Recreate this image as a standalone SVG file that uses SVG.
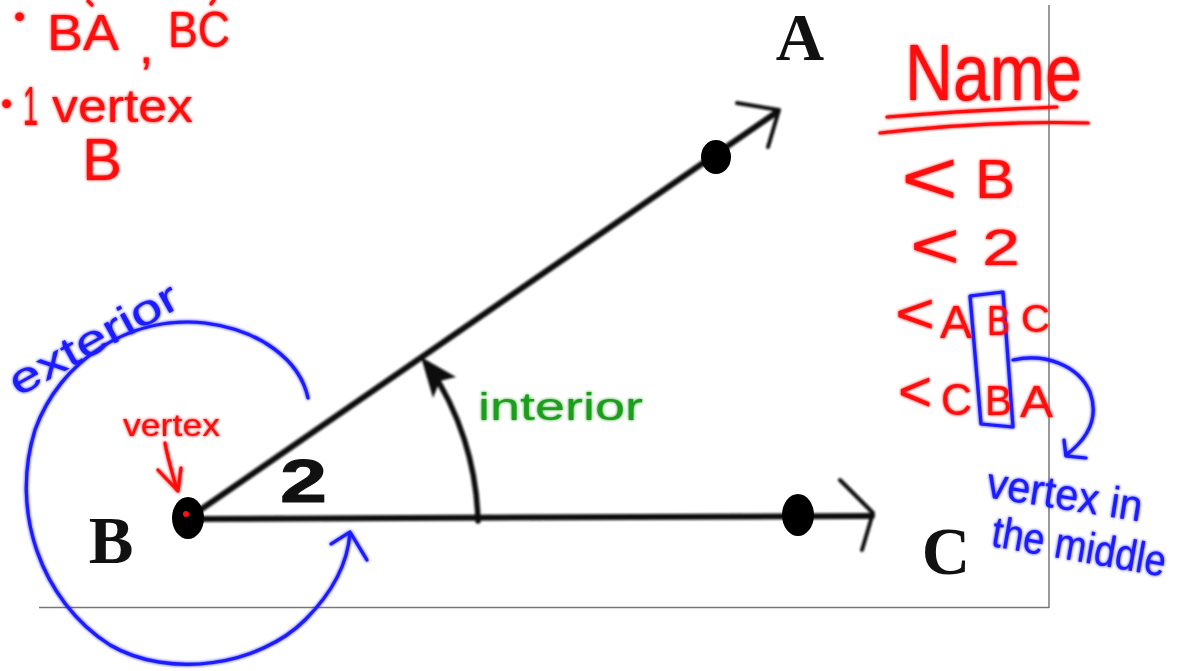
<svg xmlns="http://www.w3.org/2000/svg" width="1178" height="671" viewBox="0 0 1178 671">
<defs>
<filter id="glow" x="-20%" y="-20%" width="140%" height="140%">
<feGaussianBlur in="SourceGraphic" stdDeviation="1.5" result="b"/>
<feMerge><feMergeNode in="b"/><feMergeNode in="SourceGraphic"/></feMerge>
</filter>
<filter id="soft" x="-5%" y="-5%" width="110%" height="110%">
<feGaussianBlur in="SourceGraphic" stdDeviation="0.8"/>
</filter>
</defs>
<style>
.ink{fill:none;stroke-linecap:round;stroke-linejoin:round}
.blk{stroke:#111;stroke-width:6}
.red{stroke:#ff1010;stroke-width:3.2}
.blue{stroke:#1a1aff;stroke-width:3.2}
.hw{font-family:"Liberation Sans","DejaVu Sans",sans-serif}
.tr{fill:#ff1010}
.tb{fill:#1a1aff}
.tg{fill:#1e9e1e}
.lbl{font-family:"Liberation Serif","DejaVu Serif",serif;font-weight:bold;fill:#111}
.frame{stroke:#777;stroke-width:1.5;fill:none}
</style>
<rect width="1178" height="671" fill="#ffffff"/>

<g id="frame">
<line class="frame" x1="1049" y1="5" x2="1049" y2="608"/>
<line class="frame" x1="39" y1="607.5" x2="1049" y2="607.5"/>
</g>

<g id="connectors">
<g id="rays" filter="url(#soft)">
<line class="ink blk" x1="190" y1="517" x2="777" y2="112"/>
<line class="ink blk" x1="190" y1="519" x2="872" y2="516"/>
<path class="ink" stroke="#111" stroke-width="4" d="M737,103 L779,110 L768,147"/>
<path class="ink" stroke="#111" stroke-width="4" d="M840,480 L873,513 L862,550"/>
<path class="ink" stroke="#111" stroke-width="5.5" d="M478,521 A289 289 0 0 0 428,365"/>
<polygon fill="#111" points="421,357 456,377 440,381 433,398"/>
</g>
<g id="exterior-arrow" filter="url(#glow)">
<path class="ink blue" d="M308,398 C300,360 260,330 205,323 C130,315 60,360 35,430 C10,510 40,600 110,645 C170,680 260,665 305,620 C335,590 348,560 350,533"/>
<path class="ink blue" d="M331,544 L350,532 L367,560"/>
</g>
<g id="vertex-arrow" filter="url(#glow)">
<path class="ink red" d="M165,443 C168,460 173,475 177,490"/>
<path class="ink red" d="M158,470 L178,491 L181,468"/>
</g>
<g id="middle-arrow" filter="url(#glow)">
<path class="ink blue" d="M970,296 L1003,292 L1013,427 L981,424 Z"/>
<path class="ink blue" d="M1013,360 C1045,353 1078,365 1090,392 C1100,420 1086,440 1066,455"/>
<path class="ink blue" d="M1064,440 L1066,456 L1086,458"/>
</g>
</g>

<g id="node-A">
<ellipse cx="716" cy="157" rx="15" ry="17" fill="#000"/>
<text class="lbl" x="800" y="60" font-size="67" text-anchor="middle">A</text>
</g>
<g id="node-B">
<ellipse cx="188" cy="518" rx="16" ry="21" fill="#000"/>
<circle cx="186" cy="514" r="3" fill="#ff1010"/>
<text class="lbl" x="111" y="563" font-size="67" text-anchor="middle">B</text>
</g>
<g id="node-C">
<ellipse cx="798" cy="515" rx="16" ry="21" fill="#000"/>
<text class="lbl" x="946" y="574" font-size="67" text-anchor="middle">C</text>
</g>
<g id="angle-label">
<text x="280" y="502" font-family="Liberation Sans, DejaVu Sans, sans-serif" font-weight="bold" font-size="62" fill="#111" stroke="#111" stroke-width="1" textLength="47" lengthAdjust="spacingAndGlyphs">2</text>
</g>

<g id="notes-red" filter="url(#glow)">
<path class="ink red" stroke-width="2.5" d="M88,1 L92,5 M214,0 L211,4"/>
<text class="hw tr" x="14" y="27" font-size="32">•</text>
<text class="hw tr" x="47" y="50" font-size="50" textLength="72" lengthAdjust="spacingAndGlyphs">BA</text>
<text class="hw tr" x="139" y="63" font-size="52">,</text>
<text class="hw tr" x="168" y="47" font-size="50" textLength="62" lengthAdjust="spacingAndGlyphs">BC</text>
<text class="hw tr" x="1" y="114" font-size="32">•</text>
<text class="hw tr" x="23" y="125" font-size="56" textLength="15" lengthAdjust="spacingAndGlyphs">1</text>
<text class="hw tr" x="52" y="122" font-size="46" textLength="141" lengthAdjust="spacingAndGlyphs">vertex</text>
<text class="hw tr" x="82" y="180" font-size="60" textLength="40" lengthAdjust="spacingAndGlyphs">B</text>
<text class="hw tr" x="123" y="436" font-size="32" textLength="97" lengthAdjust="spacingAndGlyphs">vertex</text>

<text class="hw tr" x="905" y="100" font-size="80" textLength="177" lengthAdjust="spacingAndGlyphs">Name</text>
<path class="ink red" d="M887,117 C950,112 1000,109 1057,107"/>
<path class="ink red" d="M880,133 C950,125 1020,121 1088,123"/>
<text class="hw tr" x="901" y="204" font-size="76" textLength="57" lengthAdjust="spacingAndGlyphs">&lt;</text>
<text class="hw tr" x="975" y="198" font-size="56" textLength="40" lengthAdjust="spacingAndGlyphs">B</text>
<text class="hw tr" x="910" y="268" font-size="64" textLength="50" lengthAdjust="spacingAndGlyphs">&lt;</text>
<text class="hw tr" x="982" y="265" font-size="50" textLength="38" lengthAdjust="spacingAndGlyphs">2</text>
<text class="hw tr" x="895" y="333" font-size="58" textLength="40" lengthAdjust="spacingAndGlyphs">&lt;</text>
<text class="hw tr" x="940" y="338" font-size="46" textLength="32" lengthAdjust="spacingAndGlyphs">A</text>
<text class="hw tr" x="987" y="335" font-size="42" textLength="23" lengthAdjust="spacingAndGlyphs">B</text>
<text class="hw tr" x="1021" y="332" font-size="38" textLength="29" lengthAdjust="spacingAndGlyphs">C</text>
<text class="hw tr" x="898" y="411" font-size="58" textLength="34" lengthAdjust="spacingAndGlyphs">&lt;</text>
<text class="hw tr" x="941" y="415" font-size="44" textLength="31" lengthAdjust="spacingAndGlyphs">C</text>
<text class="hw tr" x="985" y="415" font-size="42" textLength="27" lengthAdjust="spacingAndGlyphs">B</text>
<text class="hw tr" x="1020" y="417" font-size="44" textLength="33" lengthAdjust="spacingAndGlyphs">A</text>
</g>

<g id="notes-blue" filter="url(#glow)">
<text class="hw tb" x="18" y="397" font-size="42" textLength="188" lengthAdjust="spacingAndGlyphs" transform="rotate(-29 18 397)">exterior</text>
<text class="hw tb" x="985" y="497" font-size="44" textLength="157" lengthAdjust="spacingAndGlyphs" transform="rotate(9 985 497)">vertex in</text>
<text class="hw tb" x="990" y="546" font-size="44" textLength="176" lengthAdjust="spacingAndGlyphs" transform="rotate(10 990 546)">the middle</text>
</g>

<g id="notes-green" filter="url(#glow)">
<text class="hw tg" x="478" y="420" font-size="38" textLength="165" lengthAdjust="spacingAndGlyphs">interior</text>
</g>
</svg>
